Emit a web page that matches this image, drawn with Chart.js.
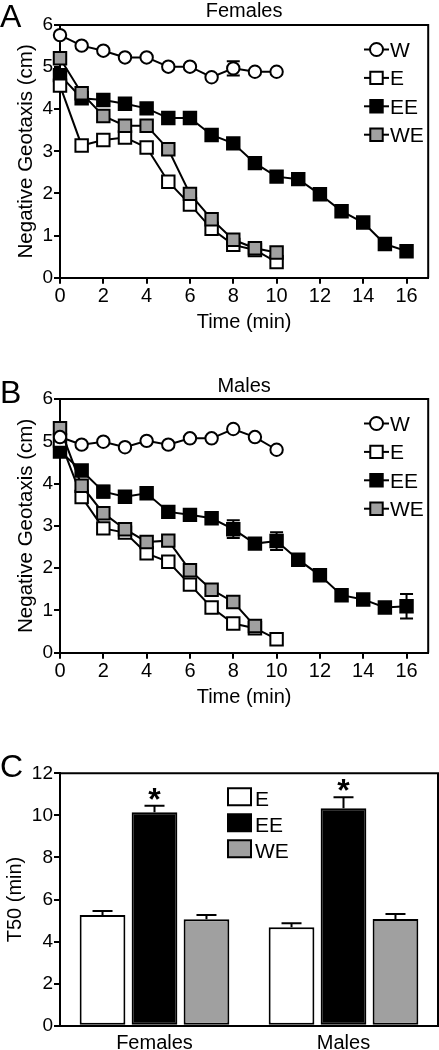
<!DOCTYPE html>
<html><head><meta charset="utf-8">
<script src="https://cdn.jsdelivr.net/npm/chart.js@4.4.1/dist/chart.umd.min.js"></script>
<style>
html,body{margin:0;padding:0;background:#fff;}
#wrap{position:relative;width:439px;height:1050px;overflow:hidden;background:#fff;}
canvas{position:absolute;left:0;}
</style></head><body>
<div id="wrap">
<canvas id="cA" width="439" height="335" style="top:0px"></canvas>
<canvas id="cB" width="439" height="336" style="top:374px"></canvas>
<canvas id="cC" width="439" height="341" style="top:709px"></canvas>
</div>
<script>
// ---------- DATA ----------
const timeLong  = [0,1,2,3,4,5,6,7,8,9,10,11,12,13,14,15,16];
const timeShort = [0,1,2,3,4,5,6,7,8,9,10];
const xTickVals = [0,2,4,6,8,10,12,14,16];
const geoTickVals = [0,1,2,3,4,5,6];
const t50TickVals = [0,2,4,6,8,10,12];

// Panel A: Females
const W_A  = [5.76,5.51,5.39,5.23,5.23,5.01,5.01,4.76,4.97,4.89,4.89];
const E_A  = [4.56,3.14,3.27,3.33,3.09,2.28,1.74,1.16,0.78,0.66,0.37];
const EE_A = [4.81,4.26,4.22,4.13,4.02,3.79,3.79,3.39,3.19,2.72,2.40,2.34,1.98,1.58,1.31,0.80,0.63];
const WE_A = [5.21,4.38,3.84,3.61,3.61,3.05,1.99,1.39,0.90,0.70,0.60];
const W_A_err = [0,0,0,0,0,0,0,0,0.17,0,0];

// Panel B: Males
const W_B  = [5.10,4.92,4.99,4.86,5.01,4.92,5.07,5.07,5.29,5.10,4.80];
const E_B  = [5.02,3.68,2.94,2.84,2.35,2.15,1.61,1.07,0.69,0.58,0.32];
const EE_B = [4.76,4.31,3.81,3.69,3.77,3.33,3.26,3.18,2.92,2.58,2.64,2.20,1.83,1.36,1.26,1.07,1.10];
const WE_B = [5.31,3.95,3.30,2.92,2.62,2.65,1.95,1.49,1.20,0.63];
const EE_B_err = [0,0,0.14,0,0,0,0,0,0.21,0,0.21,0,0,0,0,0,0.29];
const WE_B_err = [0,0,0,0.08,0,0.12,0.08,0,0,0];

// Panel C: T50
const sexes = ['Females','Males'];
const T50_E  = [5.26,4.68];
const T50_EE = [10.15,10.34];
const T50_WE = [5.06,5.07];
const T50_E_err  = [0.19,0.19];
const T50_EE_err = [0.31,0.52];
const T50_WE_err = [0.20,0.24];
const sigFlags = [true,true]; // asterisk over EE

// ---------- STYLE ----------
const FF = '"Liberation Sans", Arial, Helvetica, sans-serif';
const GRAY = '#a0a0a0';
const xTickFont = {family: FF, size: 20};
const yTickFont = {family: FF, size: 19};
const titleFont = {family: FF, size: 20};
const yTitleFont = {family: FF, size: 20.5};

function pts(xs, ys){ return ys.map((v,i)=>({x: xs[i], y: v})); }

function lineDS(label, xs, ys, style, err, order){
  return {
    label, data: pts(xs, ys), errors: err || null,
    borderColor:'#000', borderWidth:2, showLine:true, fill:false, tension:0,
    pointStyle: style.shape, pointRadius: style.r, pointHoverRadius: style.r,
    pointBackgroundColor: style.fill, pointBorderColor:'#000', pointBorderWidth:2,
    clip:false, order
  };
}
const SW  = {shape:'circle', r:6.2, fill:'#fff'};
const SE  = {shape:'rect', r:8.8, fill:'#fff'};
const SEE = {shape:'rect', r:8.8, fill:'#000'};
const SWE = {shape:'rect', r:8.8, fill:GRAY};

const boxPlugin = {
  id:'box',
  afterDraw(chart){
    const {ctx, chartArea:a} = chart;
    ctx.save(); ctx.strokeStyle='#000'; ctx.lineWidth=2;
    ctx.beginPath();
    ctx.moveTo(a.left, a.top); ctx.lineTo(a.right, a.top); ctx.lineTo(a.right, a.bottom);
    ctx.stroke(); ctx.restore();
  }
};

const errLinePlugin = {
  id:'errLine',
  beforeDatasetsDraw(chart){
    const {ctx} = chart; const ys = chart.scales.y;
    ctx.save(); ctx.strokeStyle='#000'; ctx.lineWidth=2;
    chart.data.datasets.forEach((ds,di)=>{
      if(!ds.errors) return;
      const meta = chart.getDatasetMeta(di);
      meta.data.forEach((el,i)=>{
        const e = ds.errors[i]; if(!e) return;
        const v = ds.data[i].y;
        const y1 = ys.getPixelForValue(v+e), y2 = ys.getPixelForValue(v-e);
        ctx.beginPath();
        ctx.moveTo(el.x, y1); ctx.lineTo(el.x, y2);
        ctx.moveTo(el.x-6.5, y1); ctx.lineTo(el.x+6.5, y1);
        ctx.moveTo(el.x-6.5, y2); ctx.lineTo(el.x+6.5, y2);
        ctx.stroke();
      });
    });
    ctx.restore();
  }
};

function textPlugin(letter, letterSize, letterBase, title, titleBase){
  return {
    id:'txt',
    afterDraw(chart){
      const {ctx, chartArea:a} = chart;
      ctx.save(); ctx.fillStyle='#000'; ctx.textBaseline='alphabetic';
      ctx.font = letterSize+'px '+FF; ctx.textAlign='left';
      ctx.fillText(letter, 0, letterBase);
      if(title){
        ctx.font = '20px '+FF; ctx.textAlign='center';
        ctx.fillText(title, (a.left+a.right)/2, titleBase);
      }
      ctx.restore();
    }
  };
}

const lineLegendPlugin = {
  id:'lineLegend',
  afterDraw(chart){
    const {ctx, chartArea:a} = chart;
    const order = chart.options.legendOrder;
    ctx.save(); ctx.font='21px '+FF; ctx.fillStyle='#000'; ctx.textBaseline='alphabetic'; ctx.textAlign='left';
    order.forEach((di,row)=>{
      const ds = chart.data.datasets[di];
      const cy = a.top + 24.5 + row*28.4;
      const cx = 376.5;
      ctx.strokeStyle='#000'; ctx.lineWidth=2;
      ctx.beginPath(); ctx.moveTo(364, cy); ctx.lineTo(389, cy); ctx.stroke();
      ctx.fillStyle = ds.pointBackgroundColor;
      ctx.beginPath();
      if(ds.pointStyle==='circle'){ ctx.arc(cx, cy, 6.5, 0, Math.PI*2); }
      else { const s = ds.pointRadius*Math.SQRT1_2; ctx.rect(cx-s, cy-s, 2*s, 2*s); }
      ctx.fill(); ctx.stroke();
      ctx.fillStyle='#000';
      ctx.fillText(ds.label, 390, cy+7.5);
    });
    ctx.restore();
  }
};

function lineOptions(extra){
  return Object.assign({
    responsive:false, animation:false, devicePixelRatio:1,
    layout:{padding:{left:0, right:1, top:25, bottom:0}},
    plugins:{legend:{display:false}, tooltip:{enabled:false}, title:{display:false}},
    scales:{
      x:{type:'linear', min:0, max:17,
        afterBuildTicks(s){ s.ticks = xTickVals.map(v=>({value:v})); },
        ticks:{font:xTickFont, color:'#000', padding:1, maxRotation:0},
        grid:{drawOnChartArea:false, color:'#000', lineWidth:2, tickLength:6},
        border:{color:'#000', width:2},
        title:{display:true, text:'Time (min)', font:titleFont, color:'#000', padding:{top:0,bottom:1}},
        afterFit(s){ s.height = 57.3; }
      },
      y:{type:'linear', min:0, max:6,
        afterBuildTicks(s){ s.ticks = geoTickVals.map(v=>({value:v})); },
        ticks:{font:yTickFont, color:'#000', padding:1},
        grid:{drawOnChartArea:false, color:'#000', lineWidth:2, tickLength:6},
        border:{color:'#000', width:2},
        title:{display:true, text:'Negative Geotaxis (cm)', font:yTitleFont, color:'#000', padding:{top:14,bottom:0}},
        afterFit(s){ s.width = 60; }
      }
    }
  }, extra);
}

// Panel A
new Chart(document.getElementById('cA'), {
  type:'scatter',
  data:{datasets:[
    lineDS('W',  timeShort, W_A,  SW,  W_A_err, 1),
    lineDS('E',  timeShort, E_A,  SE,  null, 3),
    lineDS('EE', timeLong,  EE_A, SEE, null, 4),
    lineDS('WE', timeShort, WE_A, SWE, null, 2)
  ]},
  options: lineOptions({legendOrder:[0,1,2,3]}),
  plugins:[boxPlugin, errLinePlugin, lineLegendPlugin, textPlugin('A', 32, 27, 'Females', 17)]
});

// Panel B
new Chart(document.getElementById('cB'), {
  type:'scatter',
  data:{datasets:[
    lineDS('W',  timeShort, W_B,  SW,  null, 1),
    lineDS('E',  timeShort, E_B,  SE,  null, 3),
    lineDS('EE', timeLong,  EE_B, SEE, EE_B_err, 4),
    lineDS('WE', timeLong.slice(0, WE_B.length), WE_B, SWE, WE_B_err, 2)
  ]},
  options: lineOptions({legendOrder:[0,1,2,3]}),
  plugins:[boxPlugin, errLinePlugin, lineLegendPlugin, textPlugin('B', 32, 29, 'Males', 17.7)]
});

// Panel C
const barErrPlugin = {
  id:'barErr',
  afterDatasetsDraw(chart){
    const {ctx} = chart; const ys = chart.scales.y;
    ctx.save(); ctx.strokeStyle='#000'; ctx.lineWidth=2; ctx.fillStyle='#000';
    chart.data.datasets.forEach((ds,di)=>{
      const meta = chart.getDatasetMeta(di);
      meta.data.forEach((el,i)=>{
        const e = ds.errors[i]; const v = ds.data[i];
        const yt = ys.getPixelForValue(v), ye = ys.getPixelForValue(v+e);
        ctx.beginPath(); ctx.moveTo(el.x, yt); ctx.lineTo(el.x, ye);
        ctx.moveTo(el.x-10, ye); ctx.lineTo(el.x+10, ye); ctx.stroke();
        if(ds.sig && ds.sig[i]){
          ctx.font = 'bold 32px '+FF; ctx.textAlign='center'; ctx.textBaseline='alphabetic';
          ctx.fillText('*', el.x, ye + 4);
        }
      });
    });
    ctx.restore();
  }
};
const barLegendPlugin = {
  id:'barLegend',
  afterDraw(chart){
    const {ctx, chartArea:a} = chart;
    ctx.save(); ctx.font='21px '+FF; ctx.textBaseline='alphabetic'; ctx.textAlign='left';
    chart.data.datasets.forEach((ds,row)=>{
      const top = a.top + 15 + row*26;
      ctx.fillStyle = ds.backgroundColor; ctx.strokeStyle='#000'; ctx.lineWidth=2;
      ctx.beginPath(); ctx.rect(228, top, 23, 17); ctx.fill(); ctx.stroke();
      ctx.fillStyle='#000';
      ctx.fillText(ds.label, 255, top+18);
    });
    ctx.restore();
  }
};
function barDS(label, data, color, err, sig){
  return {label, data, errors:err, sig, backgroundColor:color, borderColor:'#000', borderWidth:2,
    borderSkipped:false, categoryPercentage:0.825, barPercentage:0.88};
}
new Chart(document.getElementById('cC'), {
  type:'bar',
  data:{labels:sexes, datasets:[
    barDS('E',  T50_E,  '#fff', T50_E_err, null),
    barDS('EE', T50_EE, '#000', T50_EE_err, sigFlags),
    barDS('WE', T50_WE, GRAY,   T50_WE_err, null)
  ]},
  options:{
    responsive:false, animation:false, devicePixelRatio:1,
    layout:{padding:{left:0, right:1, top:64.3, bottom:0}},
    plugins:{legend:{display:false}, tooltip:{enabled:false}},
    scales:{
      x:{ticks:{font:titleFont, color:'#000', padding:6},
        grid:{display:false, drawTicks:false},
        border:{color:'#000', width:2},
        afterFit(s){ s.height = 24.3; }
      },
      y:{min:0, max:12,
        afterBuildTicks(s){ s.ticks = t50TickVals.map(v=>({value:v})); },
        ticks:{font:yTickFont, color:'#000', padding:1},
        grid:{drawOnChartArea:false, color:'#000', lineWidth:2, tickLength:6},
        border:{color:'#000', width:2},
        title:{display:true, text:'T50 (min)', font:titleFont, color:'#000', padding:{top:3,bottom:0}},
        afterFit(s){ s.width = 60; }
      }
    }
  },
  plugins:[boxPlugin, barErrPlugin, barLegendPlugin, textPlugin('C', 32, 67.7, null, 0)]
});
</script>
</body></html>
